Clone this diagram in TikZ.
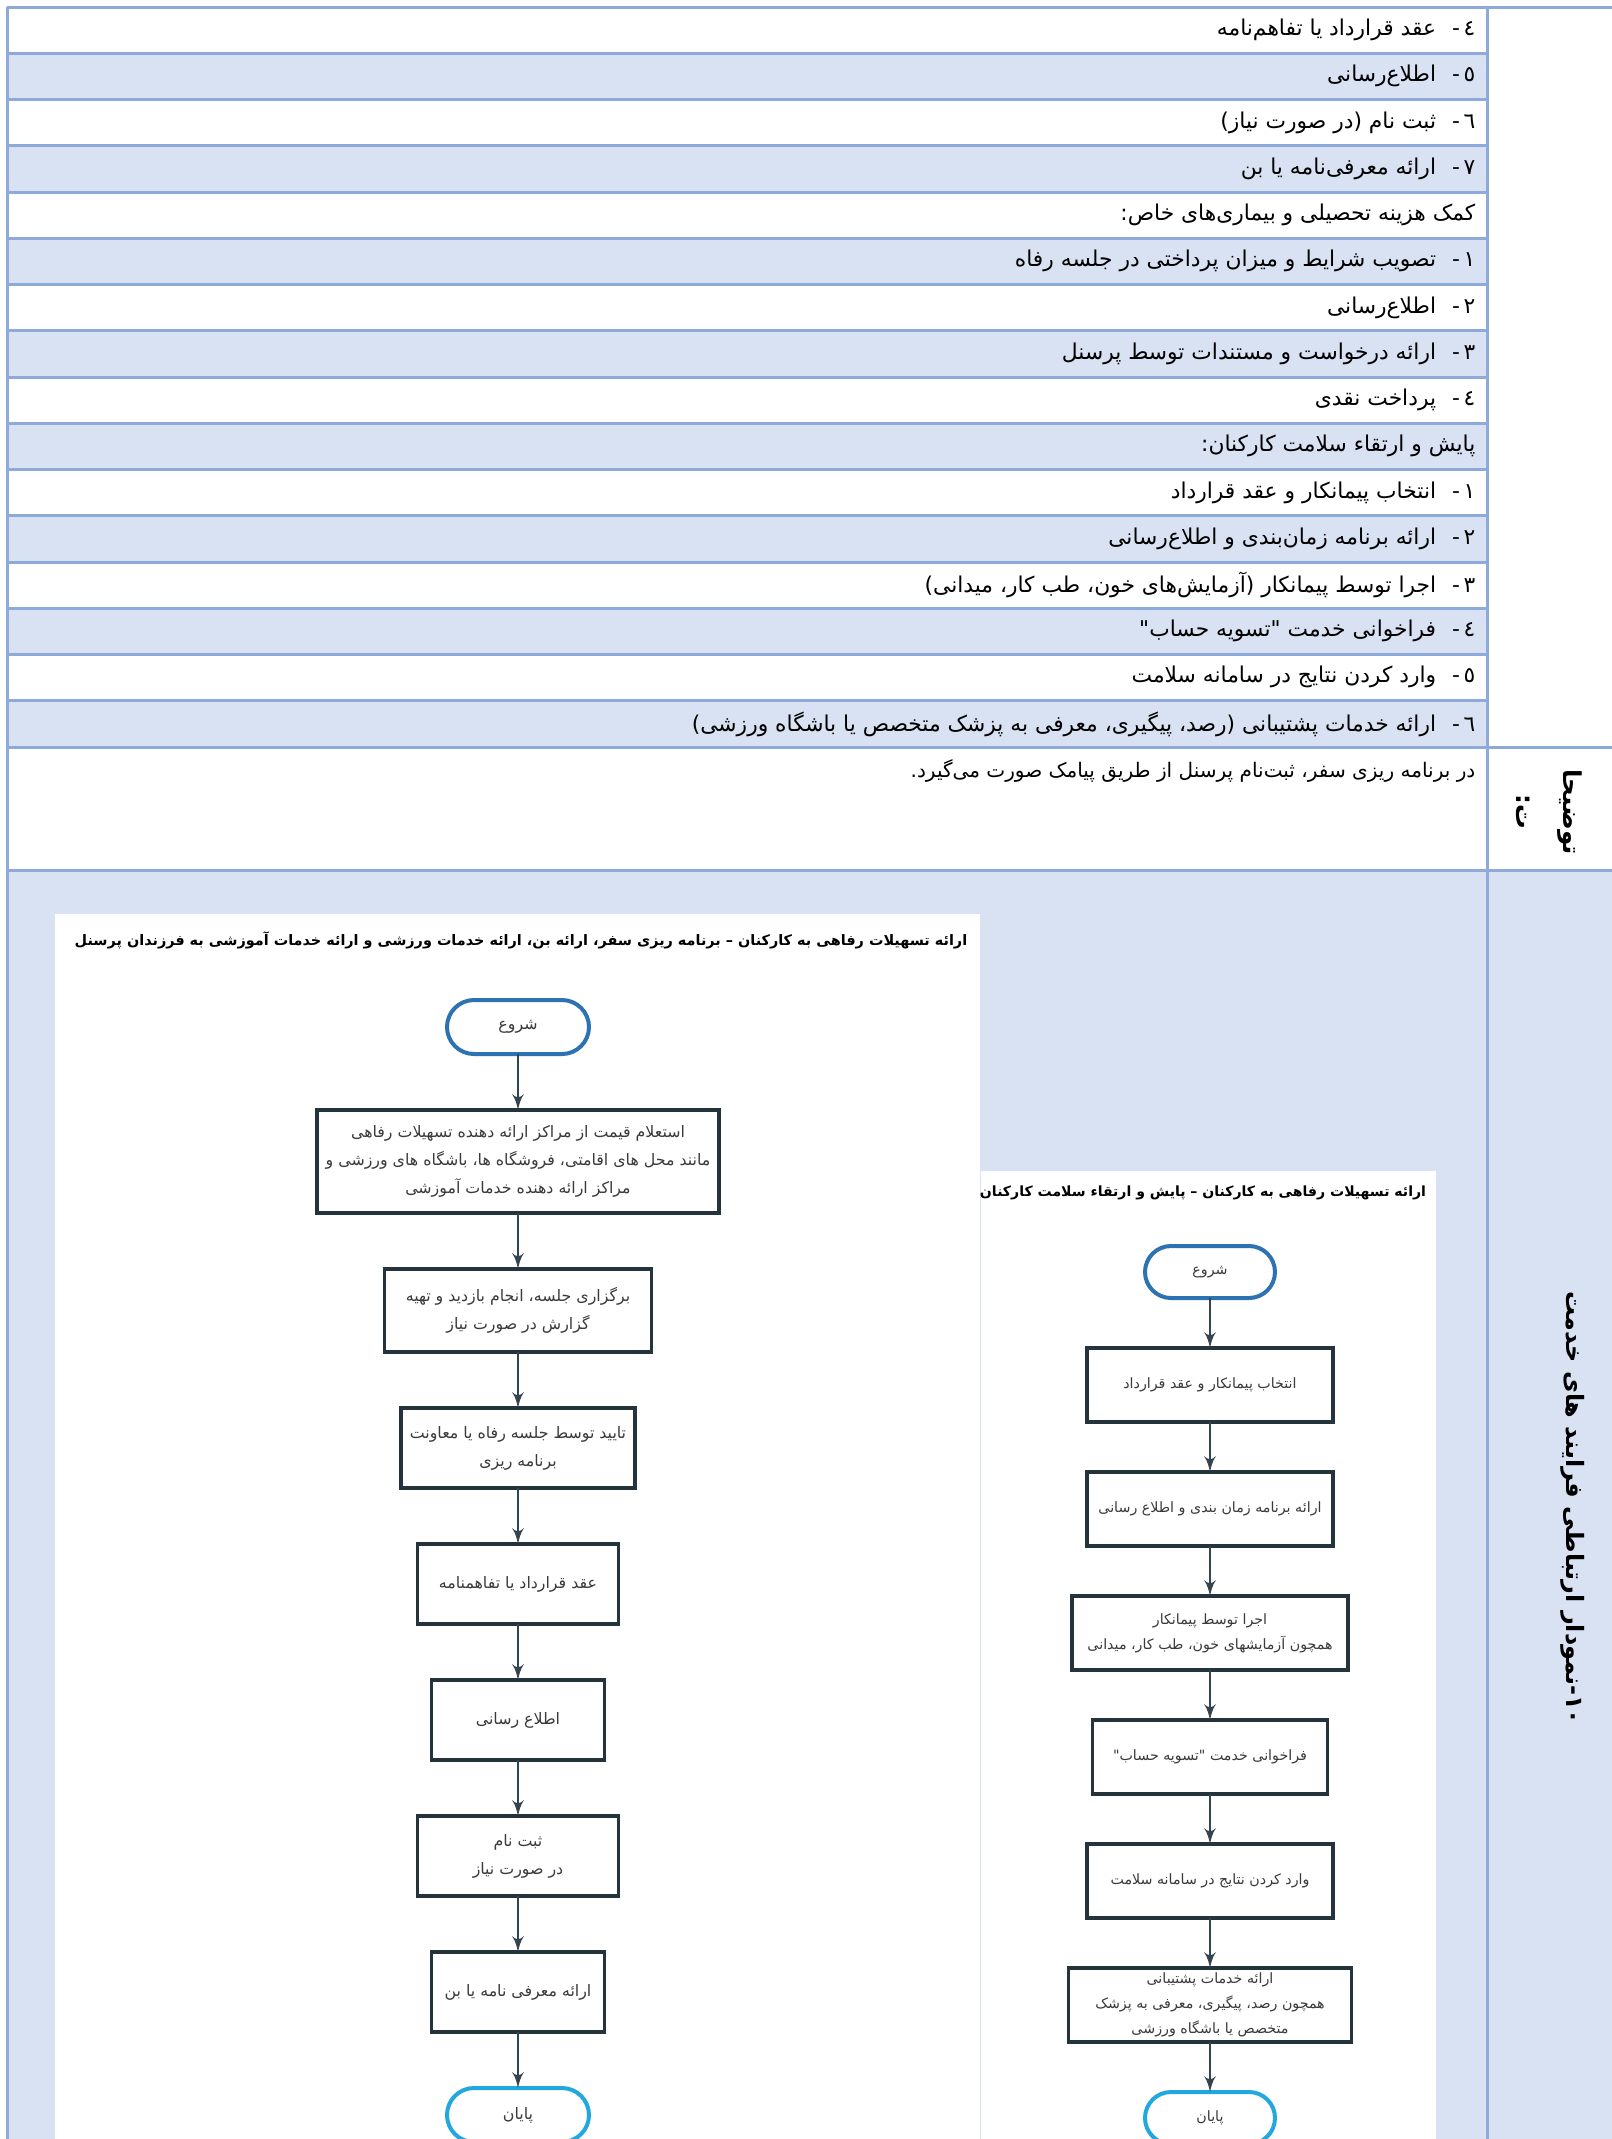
\documentclass[tikz,border=0pt]{standalone}
\usepackage{fontspec}
\usepackage{xcolor}
\usepackage{tikz}
\usetikzlibrary{shapes.geometric, arrows, positioning}
\TeXXeTstate=1
\newfontfamily\farsi[Script=Arabic]{DejaVu Sans}
\newcommand{\numsep}{\,-\hspace{1.6mm}}

\definecolor{bandblue}{HTML}{D9E2F3}
\definecolor{gridblue}{HTML}{8EAADB}
\definecolor{boxdark}{HTML}{25333D}
\definecolor{flowline}{HTML}{34444F}
\definecolor{startblue}{HTML}{2D72B2}
\definecolor{endblue}{HTML}{22A7DF}
\definecolor{flowtext}{HTML}{3A3A3A}

\begin{document}
\begin{tikzpicture}[x=0.1mm, y=-0.1mm, node distance=5.6mm]
    % Define the styles for the table and the flowcharts
    \tikzstyle{grid} = [draw=gridblue, line width=0.3mm]
    \tikzstyle{rowtext} = [anchor=east, inner sep=0pt, font=\farsi\fontsize{6.2}{8}\selectfont]
    \tikzstyle{headtext} = [rotate=-90, align=center, inner sep=0pt, font=\farsi\bfseries\fontsize{7}{9}\selectfont]
    \tikzstyle{charttitle} = [inner sep=0pt, font=\farsi\bfseries\fontsize{4.1}{5}\selectfont]
    \tikzstyle{stepbox} = [rectangle, draw=boxdark, line width=0.35mm, outer sep=0pt, fill=white, align=center, inner sep=1pt, text=flowtext, font=\farsi\fontsize{4.5}{8}\selectfont]
    \tikzstyle{rstepbox} = [stepbox, minimum height=7.4mm, font=\farsi\fontsize{4.05}{7.1}\selectfont]
    \tikzstyle{terminal} = [rectangle, rounded corners=2.7mm, draw=startblue, line width=0.4mm, outer sep=0pt, fill=white, text=flowtext, minimum width=14.2mm, minimum height=5.4mm, font=\farsi\fontsize{4.5}{8}\selectfont]
    \tikzstyle{line} = [draw=flowline, -latex', line width=0.2mm]

    \useasboundingbox (0,0) rectangle (1612,2139);
    \fill[white] (0,0) rectangle (1612,2139);

    % Banded rows and the chart row
    \foreach \i in {1,3,...,15}
        \fill[bandblue] (7,{7+46.25*\i}) rectangle (1487,{7+46.25*(\i+1)});
    \fill[bandblue] (7,870) rectangle (1612,2139);

    % Grid lines
    \foreach \i in {1,...,15}
        \draw[grid] (7,{7+46.25*\i}) -- (1487,{7+46.25*\i});
    \draw[grid] (7,7) -- (1612,7);
    \draw[grid] (7,747) -- (1612,747);
    \draw[grid] (7,870) -- (1612,870);
    \draw[grid] (7,7) -- (7,2139);
    \draw[grid] (1487,7) -- (1487,2139);

    % Row texts
    \node[rowtext] (row1) at (1476,30) {\beginR ٤\numsep عقد قرارداد یا تفاهم‌نامه\endR};
    \node[rowtext] (row2) at (1476,76) {\beginR ٥\numsep اطلاع‌رسانی\endR};
    \node[rowtext] (row3) at (1476,123) {\beginR ٦\numsep ثبت نام (در صورت نیاز)\endR};
    \node[rowtext] (row4) at (1476,169) {\beginR ٧\numsep ارائه معرفی‌نامه یا بن\endR};
    \node[rowtext] (row5) at (1476,215) {\beginR کمک هزینه تحصیلی و بیماری‌های خاص:\endR};
    \node[rowtext] (row6) at (1476,261) {\beginR ١\numsep تصویب شرایط و میزان پرداختی در جلسه رفاه\endR};
    \node[rowtext] (row7) at (1476,308) {\beginR ٢\numsep اطلاع‌رسانی\endR};
    \node[rowtext] (row8) at (1476,354) {\beginR ٣\numsep ارائه درخواست و مستندات توسط پرسنل\endR};
    \node[rowtext] (row9) at (1476,400) {\beginR ٤\numsep پرداخت نقدی\endR};
    \node[rowtext] (row10) at (1476,446) {\beginR پایش و ارتقاء سلامت کارکنان:\endR};
    \node[rowtext] (row11) at (1476,493) {\beginR ١\numsep انتخاب پیمانکار و عقد قرارداد\endR};
    \node[rowtext] (row12) at (1476,539) {\beginR ٢\numsep ارائه برنامه زمان‌بندی و اطلاع‌رسانی\endR};
    \node[rowtext] (row13) at (1476,585) {\beginR ٣\numsep اجرا توسط پیمانکار (آزمایش‌های خون، طب کار، میدانی)\endR};
    \node[rowtext] (row14) at (1476,631) {\beginR ٤\numsep فراخوانی خدمت "تسویه حساب"\endR};
    \node[rowtext] (row15) at (1476,677) {\beginR ٥\numsep وارد کردن نتایج در سامانه سلامت\endR};
    \node[rowtext] (row16) at (1476,724) {\beginR ٦\numsep ارائه خدمات پشتیبانی (رصد، پیگیری، معرفی به پزشک متخصص یا باشگاه ورزشی)\endR};
    \node[rowtext, font=\farsi\fontsize{5.7}{7}\selectfont] (note) at (1476,771) {\beginR در برنامه ریزی سفر، ثبت‌نام پرسنل از طریق پیامک صورت می‌گیرد.\endR};

    % Headings of the right column
    \node[headtext] (notehead) at (1549,812) {\beginR توضیحا\endR\\[1.5mm]\beginR ت:\endR};
    \node[headtext, font=\farsi\bfseries\fontsize{6.8}{8}\selectfont] (charthead) at (1573,1508) {\beginR ۱۰-نمودار ارتباطی فرایند های خدمت\endR};

    % Picture panels of the two flowcharts
    \fill[white] (55,914) rectangle (980,2139);
    \fill[white] (981,1171) rectangle (1436,2139);
    \node[charttitle] (lefttitle) at (521,940) {\beginR ارائه تسهیلات رفاهی به کارکنان – برنامه ریزی سفر، ارائه بن، ارائه خدمات ورزشی و ارائه خدمات آموزشی به فرزندان پرسنل\endR};
    \node[charttitle, font=\farsi\bfseries\fontsize{4}{5}\selectfont] (righttitle) at (1203,1193) {\beginR ارائه تسهیلات رفاهی به کارکنان – پایش و ارتقاء سلامت کارکنان\endR};

    % Welfare flowchart
    \node [terminal] (lstart) at (518,1027) {\beginR شروع\endR};
    \node [stepbox, below=of lstart, minimum width=40.2mm, minimum height=10.3mm] (inquiry) {\beginR استعلام قیمت از مراکز ارائه دهنده تسهیلات رفاهی\endR\\\beginR مانند محل های اقامتی، فروشگاه ها، باشگاه های ورزشی و\endR\\\beginR مراکز ارائه دهنده خدمات آموزشی\endR};
    \node [stepbox, below=of inquiry, minimum width=26.7mm, minimum height=8.3mm] (meeting) {\beginR برگزاری جلسه، انجام بازدید و تهیه\endR\\\beginR گزارش در صورت نیاز\endR};
    \node [stepbox, below=of meeting, minimum width=23.4mm, minimum height=8mm] (approval) {\beginR تایید توسط جلسه رفاه یا معاونت\endR\\\beginR برنامه ریزی\endR};
    \node [stepbox, below=of approval, minimum width=20.1mm, minimum height=8mm] (agreement) {\beginR عقد قرارداد یا تفاهمنامه\endR};
    \node [stepbox, below=of agreement, minimum width=17.3mm, minimum height=8mm] (announce) {\beginR اطلاع رسانی\endR};
    \node [stepbox, below=of announce, minimum width=20.1mm, minimum height=8mm] (signup) {\beginR ثبت نام\endR\\\beginR در صورت نیاز\endR};
    \node [stepbox, below=of signup, minimum width=17.3mm, minimum height=8mm] (voucher) {\beginR ارائه معرفی نامه یا بن\endR};
    \node [terminal, draw=endblue, below=of voucher] (lend) {\beginR پایان\endR};

    \path [line] (lstart) -- (inquiry);
    \path [line] (inquiry) -- (meeting);
    \path [line] (meeting) -- (approval);
    \path [line] (approval) -- (agreement);
    \path [line] (agreement) -- (announce);
    \path [line] (announce) -- (signup);
    \path [line] (signup) -- (voucher);
    \path [line] (voucher) -- (lend);

    % Health monitoring flowchart
    \begin{scope}[node distance=5mm]
    \node [terminal, minimum width=13mm, minimum height=5.2mm, rounded corners=2.6mm, font=\farsi\fontsize{4.05}{7}\selectfont] (rstart) at (1210,1272) {\beginR شروع\endR};
    \node [rstepbox, below=of rstart, minimum width=24.6mm] (contractor) {\beginR انتخاب پیمانکار و عقد قرارداد\endR};
    \node [rstepbox, below=of contractor, minimum width=24.6mm] (schedule) {\beginR ارائه برنامه زمان بندی و اطلاع رسانی\endR};
    \node [rstepbox, below=of schedule, minimum width=27.6mm] (execute) {\beginR اجرا توسط پیمانکار\endR\\\beginR همچون آزمایشهای خون، طب کار، میدانی\endR};
    \node [rstepbox, below=of execute, minimum width=23.5mm] (settle) {\beginR فراخوانی خدمت "تسویه حساب"\endR};
    \node [rstepbox, below=of settle, minimum width=24.6mm] (results) {\beginR وارد کردن نتایج در سامانه سلامت\endR};
    \node [rstepbox, below=of results, minimum width=28.3mm] (support) {\beginR ارائه خدمات پشتیبانی\endR\\\beginR همچون رصد، پیگیری، معرفی به پزشک\endR\\\beginR متخصص یا باشگاه ورزشی\endR};
    \node [terminal, draw=endblue, below=of support, minimum width=13mm, minimum height=5.2mm, rounded corners=2.6mm, font=\farsi\fontsize{4.05}{7}\selectfont] (rend) {\beginR پایان\endR};
    \end{scope}

    \path [line] (rstart) -- (contractor);
    \path [line] (contractor) -- (schedule);
    \path [line] (schedule) -- (execute);
    \path [line] (execute) -- (settle);
    \path [line] (settle) -- (results);
    \path [line] (results) -- (support);
    \path [line] (support) -- (rend);
\end{tikzpicture}
\end{document}
